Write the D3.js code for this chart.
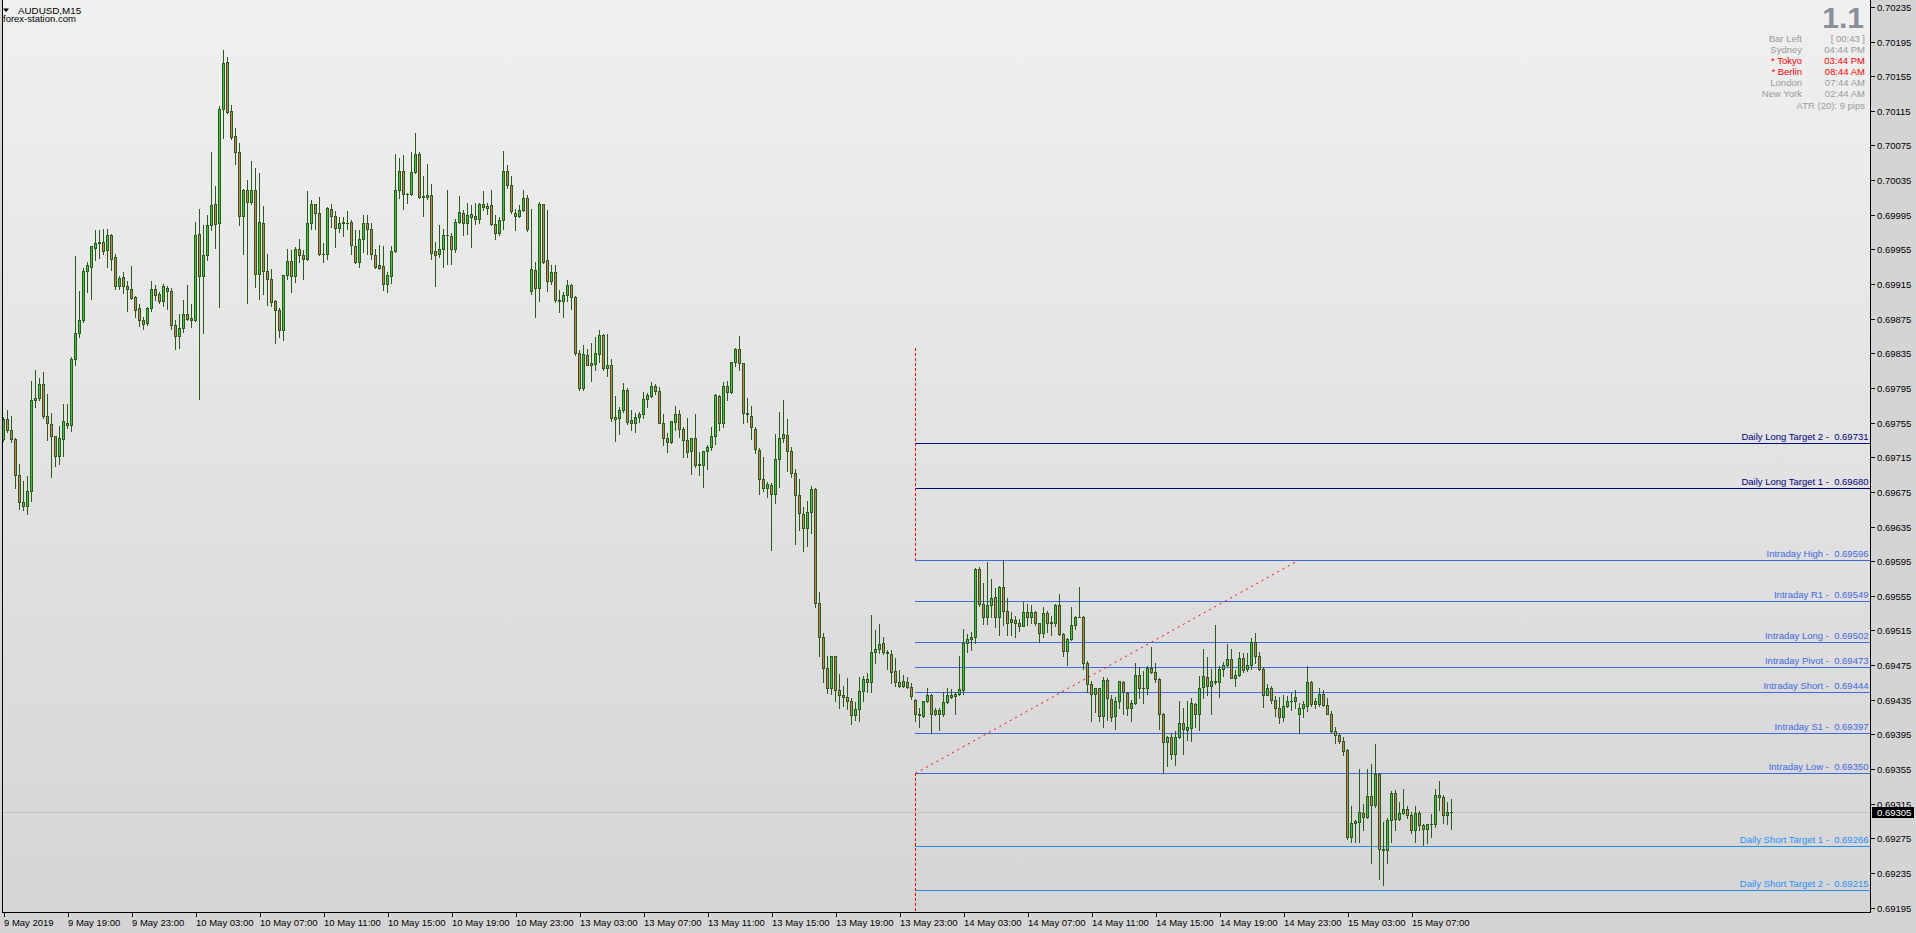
<!DOCTYPE html>
<html><head><meta charset="utf-8">
<script src="https://cdn.jsdelivr.net/npm/d3@7/dist/d3.min.js"></script>
<style>
html,body{margin:0;padding:0;background:#d4d4d4;overflow:hidden}
svg{display:block}
text{font-family:"Liberation Sans",Arial,sans-serif;white-space:pre}
</style></head><body>
<svg id="chart" width="1916" height="933"></svg>
<script>
// ---------------- DATA (AUDUSD M15, 9 May 2019 15:00 -> 15 May 2019 09:30) ----------------
const symbolTitle = "AUDUSD,M15";
const siteName = "forex-station.com";
const openPrices = [
0.69736,0.69759,0.69746,0.69736,0.69694,0.69663,0.69659,0.69676,0.69781,0.69783,0.69800,0.69763,0.69753,0.69739,0.69717,0.69736,0.69755,0.69752,0.69829,0.69859,
0.69873,0.69930,0.69935,0.69957,0.69963,0.69963,0.69954,0.69972,0.69946,0.69913,0.69923,0.69913,0.69909,0.69900,0.69887,0.69873,0.69870,0.69887,0.69909,0.69903,
0.69895,0.69911,0.69907,0.69868,0.69855,0.69864,0.69880,0.69876,0.69874,0.69973,0.69924,0.69949,0.69983,0.70007,0.69985,0.70117,0.70171,0.70115,0.70086,0.70068,
0.69994,0.70024,0.70010,0.70024,0.69927,0.69986,0.69930,0.69921,0.69895,0.69885,0.69862,0.69925,0.69942,0.69924,0.69955,0.69948,0.69944,0.69986,0.70007,0.69997,
0.69950,0.69950,0.70002,0.69994,0.69980,0.69987,0.69986,0.69987,0.69959,0.69940,0.69967,0.69986,0.69979,0.69949,0.69937,0.69936,0.69915,0.69924,0.69953,0.70024,
0.70045,0.70019,0.70019,0.70044,0.70065,0.70015,0.70016,0.70018,0.69953,0.69950,0.69956,0.69972,0.69971,0.69955,0.69987,0.69997,0.69985,0.69993,0.69994,0.69990,
0.70007,0.70003,0.70006,0.69984,0.69974,0.69989,0.70046,0.70029,0.69997,0.69994,0.70001,0.70014,0.69907,0.69931,0.69911,0.70007,0.69943,0.69919,0.69929,0.69897,
0.69896,0.69902,0.69914,0.69900,0.69835,0.69795,0.69833,0.69824,0.69823,0.69834,0.69856,0.69818,0.69822,0.69761,0.69760,0.69769,0.69793,0.69758,0.69755,0.69761,
0.69765,0.69782,0.69786,0.69797,0.69792,0.69755,0.69737,0.69733,0.69756,0.69765,0.69748,0.69735,0.69722,0.69737,0.69706,0.69706,0.69722,0.69727,0.69739,0.69786,
0.69754,0.69797,0.69790,0.69825,0.69840,0.69824,0.69766,0.69763,0.69748,0.69723,0.69690,0.69680,0.69683,0.69672,0.69713,0.69737,0.69741,0.69722,0.69697,0.69671,
0.69650,0.69633,0.69652,0.69678,0.69547,0.69507,0.69472,0.69448,0.69485,0.69446,0.69440,0.69438,0.69433,0.69417,0.69424,0.69445,0.69459,0.69455,0.69490,0.69494,
0.69500,0.69490,0.69488,0.69468,0.69456,0.69451,0.69456,0.69450,0.69435,0.69418,0.69416,0.69433,0.69441,0.69419,0.69423,0.69418,0.69432,0.69441,0.69439,0.69442,
0.69446,0.69500,0.69505,0.69507,0.69586,0.69546,0.69530,0.69544,0.69554,0.69530,0.69565,0.69537,0.69525,0.69527,0.69524,0.69520,0.69536,0.69530,0.69536,0.69524,
0.69512,0.69535,0.69525,0.69524,0.69544,0.69511,0.69491,0.69505,0.69521,0.69531,0.69531,0.69478,0.69453,0.69442,0.69448,0.69416,0.69458,0.69436,0.69416,0.69433,
0.69456,0.69443,0.69426,0.69431,0.69464,0.69448,0.69448,0.69472,0.69467,0.69459,0.69419,0.69386,0.69392,0.69372,0.69392,0.69408,0.69400,0.69402,0.69430,0.69419,
0.69450,0.69461,0.69451,0.69457,0.69456,0.69470,0.69475,0.69482,0.69460,0.69463,0.69483,0.69470,0.69475,0.69502,0.69486,0.69470,0.69441,0.69448,0.69435,0.69426,
0.69415,0.69428,0.69433,0.69434,0.69419,0.69425,0.69428,0.69456,0.69433,0.69430,0.69442,0.69429,0.69419,0.69399,0.69394,0.69387,0.69377,0.69277,0.69293,0.69294,
0.69304,0.69300,0.69324,0.69313,0.69349,0.69263,0.69262,0.69296,0.69327,0.69297,0.69304,0.69309,0.69302,0.69285,0.69304,0.69290,0.69286,0.69291,0.69292,0.69325,
0.69323,0.69302,0.69305];
const highPrices = [
0.69762,0.69770,0.69763,0.69737,0.69707,0.69688,0.69693,0.69803,0.69816,0.69807,0.69813,0.69788,0.69766,0.69740,0.69751,0.69776,0.69777,0.69831,0.69947,0.69907,
0.69934,0.69940,0.69959,0.69977,0.69977,0.69979,0.69979,0.69973,0.69950,0.69924,0.69929,0.69919,0.69936,0.69901,0.69892,0.69877,0.69888,0.69919,0.69914,0.69906,
0.69915,0.69913,0.69910,0.69873,0.69880,0.69897,0.69914,0.69892,0.69987,0.70002,0.69983,0.69995,0.70068,0.70028,0.70121,0.70185,0.70177,0.70122,0.70095,0.70078,
0.70025,0.70035,0.70057,0.70049,0.70043,0.70005,0.69950,0.69932,0.69897,0.69887,0.69926,0.69956,0.69954,0.69958,0.69967,0.69954,0.70022,0.70012,0.70008,0.70016,
0.69962,0.70004,0.70008,0.69999,0.69992,0.69993,0.69999,0.69989,0.69977,0.69977,0.69995,0.69995,0.69985,0.69956,0.69960,0.69959,0.69929,0.69959,0.70065,0.70061,
0.70064,0.70020,0.70067,0.70089,0.70068,0.70040,0.70054,0.70031,0.69963,0.69983,0.69979,0.70024,0.69974,0.69990,0.70017,0.70001,0.70009,0.70006,0.70009,0.70009,
0.70022,0.70009,0.70024,0.69995,0.69993,0.70069,0.70053,0.70040,0.70002,0.70006,0.70024,0.70018,0.70002,0.69940,0.70010,0.70008,0.70001,0.69937,0.69937,0.69908,
0.69906,0.69920,0.69915,0.69901,0.69839,0.69845,0.69840,0.69847,0.69854,0.69862,0.69857,0.69857,0.69828,0.69786,0.69773,0.69801,0.69795,0.69769,0.69766,0.69767,
0.69790,0.69789,0.69802,0.69800,0.69796,0.69765,0.69743,0.69757,0.69774,0.69770,0.69750,0.69760,0.69737,0.69765,0.69721,0.69722,0.69729,0.69750,0.69788,0.69787,
0.69802,0.69803,0.69825,0.69841,0.69855,0.69824,0.69784,0.69774,0.69750,0.69726,0.69715,0.69686,0.69685,0.69742,0.69767,0.69781,0.69759,0.69727,0.69702,0.69690,
0.69657,0.69664,0.69682,0.69679,0.69559,0.69512,0.69486,0.69486,0.69486,0.69465,0.69451,0.69460,0.69437,0.69432,0.69461,0.69462,0.69466,0.69533,0.69516,0.69522,
0.69507,0.69492,0.69493,0.69483,0.69469,0.69464,0.69461,0.69454,0.69436,0.69425,0.69434,0.69448,0.69442,0.69426,0.69426,0.69444,0.69448,0.69447,0.69444,0.69485,
0.69517,0.69511,0.69513,0.69587,0.69588,0.69570,0.69594,0.69574,0.69564,0.69566,0.69596,0.69552,0.69536,0.69532,0.69528,0.69548,0.69545,0.69544,0.69537,0.69524,
0.69542,0.69537,0.69532,0.69546,0.69557,0.69512,0.69506,0.69542,0.69532,0.69565,0.69532,0.69480,0.69457,0.69448,0.69449,0.69461,0.69460,0.69440,0.69438,0.69457,
0.69457,0.69444,0.69435,0.69478,0.69473,0.69468,0.69474,0.69496,0.69477,0.69460,0.69420,0.69393,0.69397,0.69399,0.69434,0.69426,0.69434,0.69437,0.69431,0.69462,
0.69494,0.69484,0.69471,0.69521,0.69474,0.69479,0.69499,0.69494,0.69469,0.69490,0.69489,0.69489,0.69506,0.69512,0.69490,0.69473,0.69453,0.69451,0.69439,0.69438,
0.69440,0.69439,0.69443,0.69446,0.69431,0.69434,0.69474,0.69457,0.69437,0.69448,0.69446,0.69437,0.69422,0.69404,0.69397,0.69392,0.69378,0.69312,0.69296,0.69355,
0.69315,0.69355,0.69361,0.69384,0.69350,0.69294,0.69299,0.69330,0.69331,0.69317,0.69332,0.69312,0.69305,0.69312,0.69307,0.69292,0.69292,0.69303,0.69332,0.69341,
0.69325,0.69317,0.69320];
const lowPrices = [
0.69734,0.69744,0.69733,0.69679,0.69655,0.69654,0.69650,0.69665,0.69773,0.69781,0.69760,0.69735,0.69692,0.69705,0.69707,0.69716,0.69749,0.69745,0.69821,0.69854,
0.69871,0.69906,0.69898,0.69943,0.69945,0.69950,0.69935,0.69931,0.69909,0.69909,0.69905,0.69884,0.69898,0.69877,0.69866,0.69863,0.69868,0.69884,0.69897,0.69893,
0.69890,0.69886,0.69863,0.69840,0.69841,0.69860,0.69874,0.69865,0.69872,0.69782,0.69859,0.69943,0.69977,0.69957,0.69888,0.70084,0.70113,0.70083,0.70054,0.69983,
0.69950,0.69893,0.70008,0.69912,0.69898,0.69904,0.69891,0.69890,0.69847,0.69854,0.69850,0.69921,0.69906,0.69917,0.69940,0.69921,0.69943,0.69978,0.69979,0.69948,
0.69941,0.69944,0.69981,0.69958,0.69975,0.69971,0.69978,0.69950,0.69939,0.69935,0.69952,0.69950,0.69944,0.69933,0.69932,0.69908,0.69906,0.69916,0.69952,0.70014,
0.70002,0.70009,0.70018,0.70043,0.70014,0.69994,0.70013,0.69944,0.69913,0.69946,0.69935,0.69938,0.69938,0.69952,0.69986,0.69972,0.69973,0.69958,0.69984,0.69985,
0.70001,0.69996,0.69983,0.69967,0.69972,0.69979,0.70026,0.69997,0.69977,0.69992,0.69999,0.69976,0.69904,0.69877,0.69895,0.69939,0.69907,0.69915,0.69894,0.69883,
0.69877,0.69896,0.69886,0.69833,0.69793,0.69793,0.69821,0.69803,0.69816,0.69825,0.69816,0.69809,0.69757,0.69734,0.69742,0.69767,0.69753,0.69746,0.69744,0.69756,
0.69760,0.69773,0.69785,0.69788,0.69754,0.69729,0.69721,0.69731,0.69746,0.69738,0.69715,0.69715,0.69696,0.69704,0.69694,0.69681,0.69702,0.69723,0.69730,0.69746,
0.69750,0.69781,0.69789,0.69820,0.69816,0.69755,0.69756,0.69736,0.69720,0.69672,0.69676,0.69669,0.69608,0.69662,0.69681,0.69733,0.69699,0.69692,0.69615,0.69631,
0.69607,0.69612,0.69627,0.69542,0.69485,0.69455,0.69443,0.69442,0.69433,0.69426,0.69428,0.69424,0.69407,0.69412,0.69411,0.69433,0.69444,0.69444,0.69478,0.69489,
0.69488,0.69471,0.69454,0.69451,0.69450,0.69450,0.69448,0.69436,0.69410,0.69403,0.69415,0.69432,0.69397,0.69417,0.69400,0.69416,0.69431,0.69437,0.69419,0.69440,
0.69442,0.69490,0.69493,0.69501,0.69543,0.69522,0.69522,0.69530,0.69519,0.69510,0.69521,0.69510,0.69510,0.69507,0.69514,0.69520,0.69521,0.69524,0.69521,0.69502,
0.69508,0.69513,0.69510,0.69520,0.69510,0.69485,0.69475,0.69504,0.69517,0.69530,0.69470,0.69444,0.69411,0.69421,0.69411,0.69403,0.69412,0.69410,0.69401,0.69425,
0.69419,0.69417,0.69411,0.69430,0.69437,0.69431,0.69442,0.69466,0.69456,0.69401,0.69350,0.69358,0.69367,0.69360,0.69391,0.69372,0.69389,0.69387,0.69403,0.69400,
0.69437,0.69440,0.69419,0.69453,0.69438,0.69462,0.69474,0.69460,0.69451,0.69462,0.69467,0.69468,0.69470,0.69478,0.69469,0.69427,0.69440,0.69431,0.69416,0.69408,
0.69410,0.69427,0.69423,0.69425,0.69397,0.69415,0.69422,0.69428,0.69425,0.69428,0.69428,0.69418,0.69397,0.69385,0.69385,0.69371,0.69274,0.69271,0.69271,0.69271,
0.69285,0.69299,0.69247,0.69311,0.69228,0.69221,0.69246,0.69271,0.69285,0.69296,0.69303,0.69299,0.69281,0.69271,0.69285,0.69267,0.69270,0.69277,0.69288,0.69308,
0.69293,0.69292,0.69286];
const closePrices = [
0.69759,0.69746,0.69736,0.69694,0.69663,0.69659,0.69676,0.69781,0.69783,0.69800,0.69763,0.69755,0.69739,0.69716,0.69737,0.69757,0.69752,0.69829,0.69859,0.69873,
0.69930,0.69937,0.69959,0.69962,0.69962,0.69953,0.69972,0.69944,0.69913,0.69922,0.69913,0.69909,0.69899,0.69885,0.69873,0.69869,0.69887,0.69909,0.69902,0.69895,
0.69913,0.69907,0.69868,0.69855,0.69864,0.69880,0.69875,0.69874,0.69972,0.69924,0.69949,0.69983,0.70006,0.69984,0.70117,0.70170,0.70114,0.70085,0.70068,0.69994,
0.70024,0.70010,0.70024,0.69927,0.69987,0.69930,0.69921,0.69894,0.69885,0.69862,0.69925,0.69942,0.69924,0.69956,0.69948,0.69944,0.69986,0.70008,0.69997,0.69950,
0.69950,0.70003,0.69994,0.69980,0.69986,0.69985,0.69985,0.69960,0.69940,0.69967,0.69986,0.69978,0.69950,0.69935,0.69934,0.69915,0.69925,0.69953,0.70024,0.70045,
0.70019,0.70019,0.70044,0.70065,0.70015,0.70017,0.70018,0.69951,0.69949,0.69956,0.69972,0.69972,0.69955,0.69987,0.69998,0.69985,0.69995,0.69996,0.69990,0.70008,
0.70004,0.70005,0.69984,0.69974,0.69989,0.70045,0.70029,0.69999,0.69994,0.70001,0.70014,0.69978,0.69932,0.69910,0.70008,0.69940,0.69918,0.69929,0.69897,0.69896,
0.69902,0.69914,0.69900,0.69835,0.69795,0.69834,0.69822,0.69822,0.69835,0.69856,0.69818,0.69822,0.69760,0.69759,0.69770,0.69793,0.69756,0.69755,0.69761,0.69765,
0.69782,0.69787,0.69797,0.69791,0.69755,0.69737,0.69733,0.69757,0.69765,0.69748,0.69735,0.69721,0.69737,0.69706,0.69707,0.69722,0.69727,0.69739,0.69787,0.69754,
0.69797,0.69790,0.69825,0.69840,0.69824,0.69766,0.69765,0.69750,0.69724,0.69690,0.69679,0.69684,0.69672,0.69713,0.69737,0.69742,0.69722,0.69697,0.69671,0.69651,
0.69633,0.69652,0.69678,0.69547,0.69507,0.69472,0.69448,0.69485,0.69446,0.69440,0.69438,0.69433,0.69417,0.69424,0.69445,0.69459,0.69455,0.69490,0.69494,0.69499,
0.69490,0.69489,0.69467,0.69456,0.69451,0.69457,0.69450,0.69439,0.69418,0.69417,0.69433,0.69441,0.69419,0.69423,0.69419,0.69432,0.69441,0.69438,0.69442,0.69447,
0.69500,0.69505,0.69508,0.69586,0.69545,0.69530,0.69544,0.69553,0.69530,0.69565,0.69537,0.69524,0.69528,0.69524,0.69520,0.69536,0.69530,0.69536,0.69524,0.69512,
0.69535,0.69524,0.69524,0.69544,0.69511,0.69491,0.69505,0.69521,0.69531,0.69531,0.69478,0.69453,0.69442,0.69448,0.69416,0.69458,0.69437,0.69415,0.69434,0.69457,
0.69444,0.69426,0.69431,0.69464,0.69448,0.69449,0.69472,0.69467,0.69459,0.69419,0.69386,0.69392,0.69372,0.69392,0.69408,0.69401,0.69403,0.69431,0.69419,0.69449,
0.69462,0.69451,0.69457,0.69456,0.69470,0.69475,0.69482,0.69460,0.69463,0.69483,0.69469,0.69475,0.69502,0.69486,0.69470,0.69441,0.69448,0.69435,0.69426,0.69415,
0.69428,0.69433,0.69434,0.69438,0.69425,0.69430,0.69455,0.69430,0.69430,0.69442,0.69429,0.69419,0.69399,0.69394,0.69387,0.69376,0.69277,0.69293,0.69295,0.69305,
0.69300,0.69324,0.69314,0.69349,0.69263,0.69262,0.69296,0.69327,0.69297,0.69304,0.69309,0.69302,0.69285,0.69304,0.69290,0.69286,0.69291,0.69292,0.69325,0.69323,
0.69302,0.69305,0.69305];

const timeLabels = ["9 May 2019","9 May 19:00","9 May 23:00","10 May 03:00","10 May 07:00","10 May 11:00","10 May 15:00","10 May 19:00","10 May 23:00","13 May 03:00","13 May 07:00","13 May 11:00","13 May 15:00","13 May 19:00","13 May 23:00","14 May 03:00","14 May 07:00","14 May 11:00","14 May 15:00","14 May 19:00","14 May 23:00","15 May 03:00","15 May 07:00"];
const timeLabelBars = [0,16,32,48,64,80,96,112,128,144,160,176,192,208,224,240,256,272,288,304,320,336,352];
const priceTicks = [0.69195,0.69235,0.69275,0.69315,0.69355,0.69395,0.69435,0.69475,0.69515,0.69555,0.69595,0.69635,0.69675,0.69715,0.69755,0.69795,0.69835,0.69875,0.69915,0.69955,0.69995,0.70035,0.70075,0.70115,0.70155,0.70195,0.70235];

const levelNames = ["Daily Long Target 2","Daily Long Target 1","Intraday High","Intraday R1","Intraday Long","Intraday Pivot","Intraday Short","Intraday S1","Intraday Low","Daily Short Target 1","Daily Short Target 2"];
const levelValues = [0.69731,0.69680,0.69596,0.69549,0.69502,0.69473,0.69444,0.69397,0.69350,0.69266,0.69215];
const levelStartBar = 228;          // 14 May 00:00
const rangeTopPrice = 0.69841;      // top of red dashed day separator
const diagonalEndBar = 323.75;      // end of the red dotted range diagonal
const bidPrice = 0.69305;

const infoLabels = ["Bar Left","Sydney","* Tokyo","* Berlin","London","New York"];
const infoValues = ["[ 00:43 ]","04:44 PM","03:44 PM","08:44 AM","07:44 AM","02:44 AM"];
const atrText = "ATR (20): 9 pips";
const versionText = "1.1";

// ---------------- DRAWING ----------------
const svg = d3.select("#chart");
const plotL = 2, plotR = 1870, plotB = 912;
const x = d3.scaleLinear().domain([0, 466]).range([3.5, 3.5 + 466 * 4]);
const y = d3.scaleLinear().domain([0.691899, 0.702430]).range([plotB, 0]);

const defs = svg.append("defs");
const grad = defs.append("linearGradient").attr("id","bg").attr("x1",0).attr("y1",0).attr("x2",0).attr("y2",1);
grad.append("stop").attr("offset","0%").attr("stop-color","#f0f0f0");
grad.append("stop").attr("offset","100%").attr("stop-color","#d5d5d5");
defs.append("clipPath").attr("id","plotClip").append("rect").attr("x",plotL).attr("y",0).attr("width",plotR-plotL).attr("height",plotB);

svg.append("rect").attr("width",1916).attr("height",933).attr("fill","#d4d4d4");
svg.append("rect").attr("x",plotL).attr("y",0).attr("width",plotR-plotL).attr("height",plotB).attr("fill","url(#bg)");

const plot = svg.append("g").attr("clip-path","url(#plotClip)");

// bid line
plot.append("line").attr("x1",plotL).attr("x2",plotR)
  .attr("y1",Math.round(y(bidPrice))+0.5).attr("y2",Math.round(y(bidPrice))+0.5)
  .attr("stroke","#c0c0c0").attr("stroke-width",1);

// level lines
function levelColor(name){
  if (name.startsWith("Daily Long")) return "#000080";
  if (name.startsWith("Daily Short")) return "#1e90ff";
  return "#4169e1";
}
const xs = x(levelStartBar);
const lv = plot.append("g");
levelNames.forEach((n,i)=>{
  const yy = Math.round(y(levelValues[i]))+0.5;
  lv.append("line").attr("x1",xs-0.5).attr("x2",plotR).attr("y1",yy).attr("y2",yy)
    .attr("stroke",levelColor(n)).attr("stroke-width",1).attr("shape-rendering","crispEdges");
  lv.append("text").attr("x",plotR-1.5).attr("y",yy-3.5).attr("text-anchor","end")
    .attr("font-size","9.5px").attr("fill",levelColor(n))
    .text(n + " -  " + levelValues[i].toFixed(5));
});

// red dashed day separator + range diagonal
const intraHigh = levelValues[levelNames.indexOf("Intraday High")];
const intraLow = levelValues[levelNames.indexOf("Intraday Low")];
plot.append("line").attr("x1",xs).attr("x2",xs).attr("y1",y(rangeTopPrice)).attr("y2",y(intraHigh))
  .attr("stroke","#ff0000").attr("stroke-width",1).attr("stroke-dasharray","3,2").attr("shape-rendering","crispEdges");
plot.append("line").attr("x1",xs).attr("x2",xs).attr("y1",y(intraLow)).attr("y2",plotB)
  .attr("stroke","#ff0000").attr("stroke-width",1).attr("stroke-dasharray","3,2").attr("shape-rendering","crispEdges");
plot.append("line").attr("x1",xs).attr("x2",x(diagonalEndBar)).attr("y1",y(intraLow)).attr("y2",y(intraHigh))
  .attr("stroke","#ff0000").attr("stroke-width",1).attr("stroke-dasharray","2,4");

// candles
const bars = openPrices.map((o,i)=>({i,o,h:highPrices[i],l:lowPrices[i],c:closePrices[i]}));
const cg = plot.append("g").attr("shape-rendering","crispEdges");
const wickCol = "#2a5a1c", bullCol = "#3cc83c", bearCol = "#cd7f55";
bars.forEach(b=>{
  const cx = x(b.i);
  const yh = Math.round(y(b.h)), yl = Math.round(y(b.l));
  cg.append("rect").attr("x",cx-0.5).attr("y",yh).attr("width",1).attr("height",Math.max(1,yl-yh+1)).attr("fill",wickCol);
  const top = Math.round(y(Math.max(b.o,b.c))), bot = Math.round(y(Math.min(b.o,b.c)));
  const hgt = Math.max(1, bot-top+1);
  cg.append("rect").attr("x",cx-1.5).attr("y",top).attr("width",3).attr("height",hgt).attr("fill",wickCol);
  if (hgt > 2) {
    cg.append("rect").attr("x",cx-0.5).attr("y",top+1).attr("width",1).attr("height",hgt-2)
      .attr("fill", b.c >= b.o ? bullCol : bearCol);
  }
});

// frame
svg.append("line").attr("x1",plotL+0.5).attr("x2",plotL+0.5).attr("y1",0).attr("y2",plotB+0.5).attr("stroke","#000");
svg.append("line").attr("x1",plotR+0.5).attr("x2",plotR+0.5).attr("y1",0).attr("y2",plotB+0.5).attr("stroke","#000");
svg.append("line").attr("x1",plotL).attr("x2",plotR+1).attr("y1",plotB+0.5).attr("y2",plotB+0.5).attr("stroke","#000");

// price axis
const pa = svg.append("g");
priceTicks.forEach(p=>{
  const yy = Math.round(y(p))+0.5;
  pa.append("line").attr("x1",plotR+1).attr("x2",plotR+5).attr("y1",yy).attr("y2",yy).attr("stroke","#000");
  pa.append("text").attr("x",plotR+7).attr("y",yy+3.5).attr("font-size","9.5px").attr("fill","#000").text(p.toFixed(5));
});
// bid box
const by = Math.round(y(bidPrice))+0.5;
pa.append("rect").attr("x",plotR+2).attr("y",by-5.5).attr("width",42).attr("height",11).attr("fill","#000");
pa.append("text").attr("x",plotR+7).attr("y",by+3.5).attr("font-size","9.5px").attr("fill","#fff").text(bidPrice.toFixed(5));

// time axis
const ta = svg.append("g");
timeLabels.forEach((t,k)=>{
  const tx = Math.round(x(timeLabelBars[k]))+0.5;
  ta.append("line").attr("x1",tx).attr("x2",tx).attr("y1",plotB+1).attr("y2",plotB+5).attr("stroke","#000");
  ta.append("text").attr("x",tx-0.5).attr("y",plotB+14).attr("font-size","9.5px").attr("fill","#000").text(t);
});

// title
svg.append("path").attr("d","M3,8.5 L9,8.5 L6,12 Z").attr("fill","#000");
svg.append("text").attr("x",18).attr("y",13.5).attr("font-size","9.8px").attr("fill","#000").text(symbolTitle);
svg.append("text").attr("x",3).attr("y",21.5).attr("font-size","9.5px").attr("fill","#000").text(siteName);

// info panel
svg.append("text").attr("x",1864).attr("y",28).attr("text-anchor","end").attr("font-size","30px")
  .attr("font-weight","bold").attr("fill","#8a9099").text(versionText);
infoLabels.forEach((lab,k)=>{
  const col = lab.startsWith("*") ? "#ff0000" : "#9a9a9a";
  const yy = 42 + 11*k;
  svg.append("text").attr("x",1802).attr("y",yy).attr("text-anchor","end").attr("font-size","9.5px").attr("fill",col).text(lab);
  svg.append("text").attr("x",1865).attr("y",yy).attr("text-anchor","end").attr("font-size","9.5px").attr("fill",col).text(infoValues[k]);
});
svg.append("text").attr("x",1865).attr("y",108.5).attr("text-anchor","end").attr("font-size","9.5px").attr("fill","#9a9a9a").text(atrText);
</script>
</body></html>
